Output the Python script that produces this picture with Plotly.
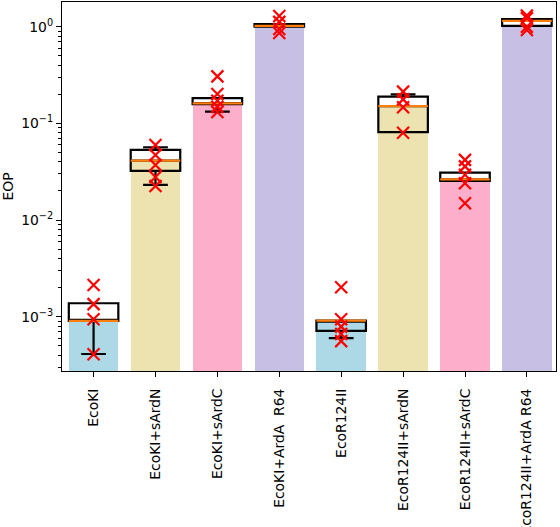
import plotly.graph_objects as go

categories = ["EcoKI", "EcoKI+sArdN", "EcoKI+sArdC", "EcoKI+ArdA\u00a0 R64",
              "EcoR124II", "EcoR124II+sArdN", "EcoR124II+sArdC", "EcoR124II+ArdA R64"]
bar_values = [9.05e-4, 0.040, 0.156, 0.99, 9.1e-4, 0.148, 0.025, 1.0]
bar_colors = ["#ADD8E6", "#EDE3B1", "#FDAECA", "#C8C0E4",
              "#ADD8E6", "#EDE3B1", "#FDAECA", "#C8C0E4"]

q1 = [9.05e-4, 0.0322, 0.158, 1.0, 7.13e-4, 0.081, 0.0254, 1.02]
median = [9.05e-4, 0.0411, 0.161, 1.02, 9.12e-4, 0.151, 0.0264, 1.15]
q3 = [1.38e-3, 0.0531, 0.182, 1.06, 9.12e-4, 0.189, 0.0309, 1.20]
lowerfence = [4.12e-4, 0.0231, 0.132, 1.0, 6.0e-4, 0.081, 0.0254, 1.02]
upperfence = [1.38e-3, 0.0566, 0.182, 1.06, 9.12e-4, 0.200, 0.0309, 1.20]

points = [
    [2.13e-3, 1.35e-3, 9.42e-4, 4.09e-4],
    [0.0598, 0.0471, 0.0371, 0.0279, 0.0225],
    [0.306, 0.201, 0.171, 0.148, 0.131],
    [1.29, 1.12, 0.946, 0.861],
    [2.02e-3, 9.42e-4, 7.9e-4, 6.64e-4, 5.6e-4],
    [0.213, 0.177, 0.147, 0.080],
    [0.0419, 0.0359, 0.0294, 0.024, 0.0149],
    [1.30, 1.22, 1.0, 0.924],
]

xpos = list(range(len(categories)))
font = "DejaVu Sans"

fig = go.Figure()
fig.add_trace(go.Bar(x=xpos, y=bar_values, width=0.8, marker=dict(color=bar_colors, line=dict(width=0)),
                     showlegend=False))
fig.add_trace(go.Box(x=xpos, q1=q1, median=median, q3=q3, lowerfence=lowerfence, upperfence=upperfence,
                     width=0.8, whiskerwidth=0.5, fillcolor="rgba(0,0,0,0)",
                     line=dict(color="black", width=2.2), showlegend=False, boxpoints=False))
mx, my = [], []
for i, m in zip(xpos, median):
    mx += [i - 0.4, i + 0.4, None]
    my += [m, m, None]
fig.add_trace(go.Scatter(x=mx, y=my, mode="lines", line=dict(color="#FF7F0E", width=2.2), showlegend=False))
px, py = [], []
for i, pts in zip(xpos, points):
    px += [i] * len(pts)
    py += pts
fig.add_trace(go.Scatter(x=px, y=py, mode="markers", showlegend=False,
                         marker=dict(symbol="x-thin", size=12, line=dict(color="red", width=2.2))))

minor_vals = [k * 10.0 ** e for e in range(-4, 1) for k in range(2, 10)]
fig.update_layout(
    width=560, height=527, margin=dict(l=62, r=4, t=2, b=156),
    plot_bgcolor="white", paper_bgcolor="white",
    font=dict(family=font, size=14, color="black"),
    bargap=0,
)
fig.update_xaxes(range=[-0.51, 7.47], tickvals=xpos, ticktext=categories, tickangle=-90,
                 showline=True, linecolor="black", linewidth=1.1, mirror=True,
                 ticks="outside", ticklen=5, tickcolor="black", showgrid=False, zeroline=False,
                 tickfont=dict(size=13.9, family=font), automargin=False, ticklabelstandoff=6)
fig.update_yaxes(type="log", range=[-3.561, 0.255],
                 tickvals=[1e-3, 1e-2, 1e-1, 1], ticktext=["10<sup>\u22123</sup>", "10<sup>\u22122</sup>",
                                                           "10<sup>\u22121</sup>", "10<sup>0</sup>"],
                 showline=True, linecolor="black", linewidth=1.1, mirror=True,
                 ticks="outside", ticklen=5, tickcolor="black", showgrid=False, zeroline=False,
                 tickfont=dict(size=13.9, family=font), automargin=False,
                 minor=dict(tickvals=minor_vals, ticks="outside", ticklen=3, tickcolor="black", showgrid=False),
                 title=dict(text="EOP", font=dict(size=13.9, family=font), standoff=8))
fig.write_html("out.html")
